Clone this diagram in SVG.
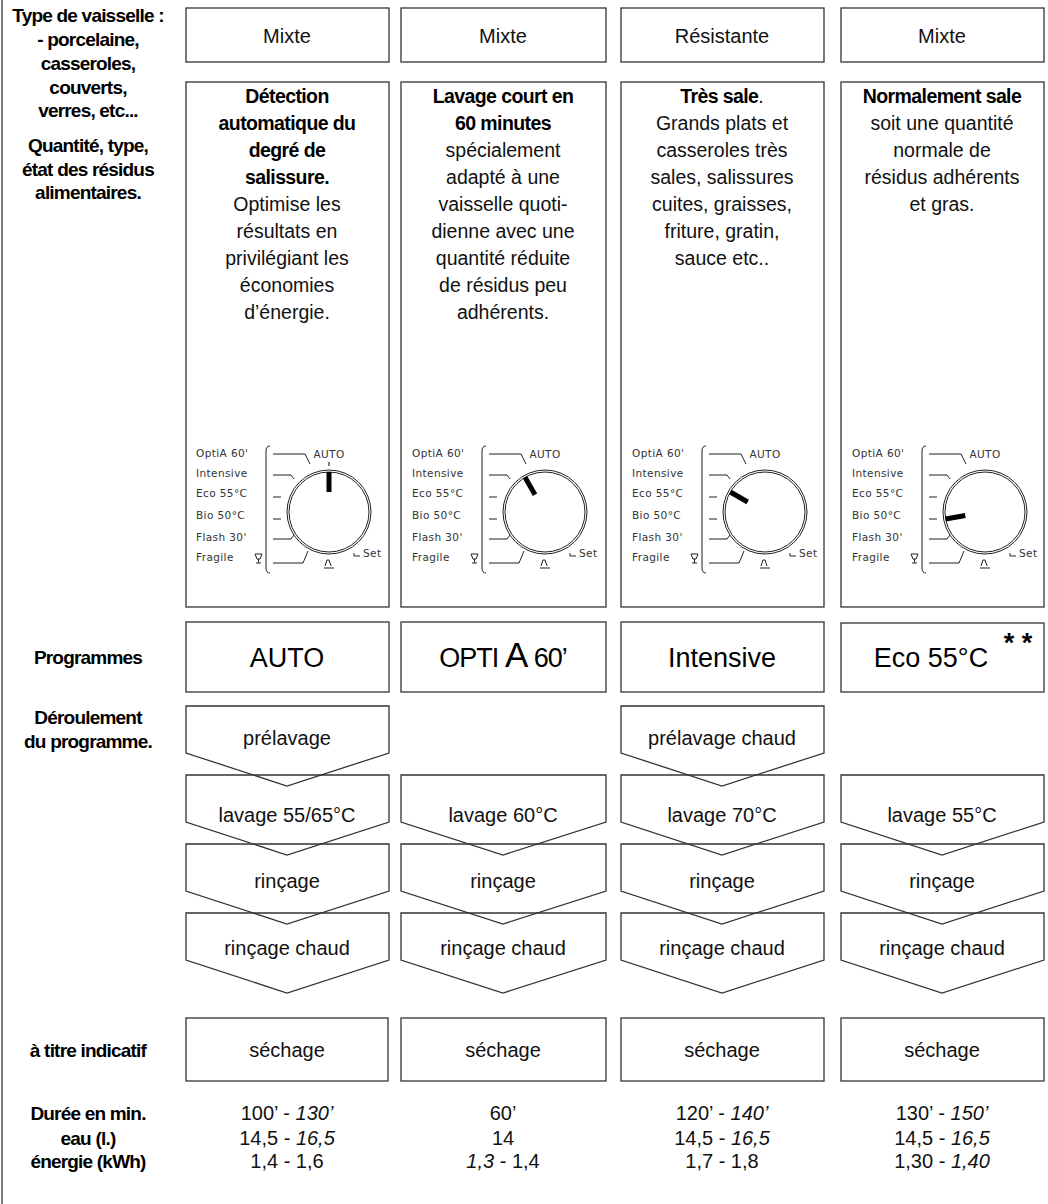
<svg xmlns="http://www.w3.org/2000/svg" width="1048" height="1204" viewBox="0 0 1048 1204">
<style>
.b{fill:#fff;stroke:#333;stroke-width:1.3}
.o{fill:none;stroke:#333;stroke-width:1.3}
.l{font-family:"Liberation Sans",Arial,sans-serif;font-weight:bold;font-size:19px;letter-spacing:-0.8px;text-anchor:middle;fill:#000}
.t{font-family:"Liberation Sans",Arial,sans-serif;font-size:20px;text-anchor:middle;fill:#111}
.d{font-family:"Liberation Sans",Arial,sans-serif;font-size:19.5px;text-anchor:middle;fill:#111}
.db{font-weight:bold;letter-spacing:-0.6px;fill:#000}
.p{font-family:"Liberation Sans",Arial,sans-serif;font-size:27px;text-anchor:middle;fill:#000}
.s{font-family:"Liberation Sans",Arial,sans-serif;font-size:20px;text-anchor:middle;fill:#111}
.v{font-family:"Liberation Sans",Arial,sans-serif;font-size:20px;text-anchor:middle;fill:#111}
.dl{font-family:"DejaVu Sans",sans-serif;font-size:10.5px;letter-spacing:0.4px;fill:#333}
.dk{stroke:#222;stroke-width:1;fill:none}
</style>
<defs>
<g id="dial">
<text class="dl" x="11" y="27">OptiA 60'</text>
<text class="dl" x="11" y="47" fill="#000">Intensive</text>
<text class="dl" x="11" y="67" fill="#000">Eco 55°C</text>
<text class="dl" x="11" y="89">Bio 50°C</text>
<text class="dl" x="11" y="111">Flash 30'</text>
<text class="dl" x="11" y="131">Fragile</text>
<path class="dk" d="M70 124 h7 l-2 5 h-3 z M73.5 129 v4 M71 133 h5"/>
<path class="dk" d="M85 16 q-4 0 -4 5 v117 q0 5 4 5" stroke-width="1.5"/>
<path class="dk" d="M88 24 h32 l5 10 M88 45 h18 l3 4 M88 67 h8 M88 89 h8 M88 109 h18 l3 -4 M88 133 h30 l5 -12"/>
<circle class="dk" cx="144" cy="82" r="42"/>
<circle class="dk" cx="144" cy="82" r="40" stroke-width="0.8"/>
<path class="dk" d="M169 123 v3 h6" />
<text class="dl" x="178" y="127" font-size="7">Set</text>
<path class="dk" d="M139 138 h10 M140 136 l2 -6 h2 l2 6" stroke-width="0.9"/>
</g>
</defs>
<line x1="2" y1="0" x2="2" y2="1204" stroke="#333" stroke-width="1.3"/>

<g id="labels">
<text class="l" x="88" y="22">Type de vaisselle :</text>
<text class="l" x="88" y="46">- porcelaine,</text>
<text class="l" x="88" y="70">casseroles,</text>
<text class="l" x="88" y="94">couverts,</text>
<text class="l" x="88" y="117">verres, etc...</text>
<text class="l" x="88" y="152">Quantité, type,</text>
<text class="l" x="88" y="176">état des résidus</text>
<text class="l" x="88" y="199">alimentaires.</text>
<text class="l" x="88" y="664">Programmes</text>
<text class="l" x="88" y="724">Déroulement</text>
<text class="l" x="88" y="748">du programme.</text>
<text class="l" x="88" y="1057">à titre indicatif</text>
<text class="l" x="88" y="1120">Durée en min.</text>
<text class="l" x="88" y="1145">eau (l.)</text>
<text class="l" x="88" y="1168">énergie (kWh)</text>
</g>

<g id="col1">
<rect class="b" x="186" y="8" width="203" height="54"/>
<text class="t" x="287" y="43">Mixte</text>
<rect class="b" x="186" y="82" width="203" height="525"/>
<text class="d db" x="287" y="103">Détection</text>
<text class="d db" x="287" y="130">automatique du</text>
<text class="d db" x="287" y="157">degré de</text>
<text class="d db" x="287" y="184">salissure.</text>
<text class="d" x="287" y="211">Optimise les</text>
<text class="d" x="287" y="238">résultats en</text>
<text class="d" x="287" y="265">privilégiant les</text>
<text class="d" x="287" y="292">économies</text>
<text class="d" x="287" y="319">d’énergie.</text>
<g transform="translate(185,430)"><use href="#dial"/>
<text class="dl" x="144" y="28" text-anchor="middle" fill="#000">AUTO</text>
<line x1="144" y1="32" x2="144" y2="36" stroke="#000"/>
<line x1="144" y1="42" x2="144" y2="62" stroke="#000" stroke-width="5"/></g>
<rect class="b" x="186" y="622" width="203" height="70"/>
<text class="p" x="287" y="667">AUTO</text>
</g>

<g id="col2">
<rect class="b" x="401" y="8" width="205" height="54"/>
<text class="t" x="503" y="43">Mixte</text>
<rect class="b" x="401" y="82" width="205" height="525"/>
<text class="d db" x="503" y="103">Lavage court en</text>
<text class="d db" x="503" y="130">60 minutes</text>
<text class="d" x="503" y="157">spécialement</text>
<text class="d" x="503" y="184">adapté à une</text>
<text class="d" x="503" y="211">vaisselle quoti-</text>
<text class="d" x="503" y="238">dienne avec une</text>
<text class="d" x="503" y="265">quantité réduite</text>
<text class="d" x="503" y="292">de résidus peu</text>
<text class="d" x="503" y="319">adhérents.</text>
<g transform="translate(401,430)"><use href="#dial"/>
<text class="dl" x="144" y="28" text-anchor="middle" fill="#ddd">AUTO</text>
<line x1="144" y1="42" x2="144" y2="62" stroke="#000" stroke-width="5" transform="rotate(-30 144 82)"/></g>
<rect class="b" x="401" y="622" width="205" height="70"/>
<text class="p" x="503" y="667" letter-spacing="-1"><tspan>OPTI</tspan><tspan font-size="35"> A</tspan><tspan>  60’</tspan></text>
</g>

<g id="col3">
<rect class="b" x="621" y="8" width="203" height="54"/>
<text class="t" x="722" y="43">Résistante</text>
<rect class="b" x="621" y="82" width="203" height="525"/>
<text class="d" x="722" y="103"><tspan class="db">Très sale</tspan>.</text>
<text class="d" x="722" y="130">Grands plats et</text>
<text class="d" x="722" y="157">casseroles très</text>
<text class="d" x="722" y="184">sales, salissures</text>
<text class="d" x="722" y="211">cuites, graisses,</text>
<text class="d" x="722" y="238">friture, gratin,</text>
<text class="d" x="722" y="265">sauce etc..</text>
<g transform="translate(621,430)"><use href="#dial"/>
<text class="dl" x="144" y="28" text-anchor="middle" fill="#ddd">AUTO</text>
<line x1="144" y1="42" x2="144" y2="62" stroke="#000" stroke-width="5" transform="rotate(-60 144 82)"/></g>
<rect class="b" x="621" y="622" width="203" height="70"/>
<text class="p" x="722" y="667">Intensive</text>
</g>

<g id="col4">
<rect class="b" x="841" y="8" width="203" height="54"/>
<text class="t" x="942" y="43">Mixte</text>
<rect class="b" x="841" y="82" width="203" height="525"/>
<text class="d db" x="942" y="103">Normalement sale</text>
<text class="d" x="942" y="130">soit une quantité</text>
<text class="d" x="942" y="157">normale de</text>
<text class="d" x="942" y="184">résidus adhérents</text>
<text class="d" x="942" y="211">et gras.</text>
<g transform="translate(841,430)"><use href="#dial"/>
<text class="dl" x="144" y="28" text-anchor="middle" fill="#ddd">AUTO</text>
<line x1="144" y1="42" x2="144" y2="62" stroke="#000" stroke-width="5" transform="rotate(-100 144 82)"/></g>
<rect class="b" x="841" y="623" width="203" height="69"/>
<text class="p" x="931" y="667">Eco 55°C</text>
<text class="p" x="1018" y="652" font-weight="bold" font-size="24">* *</text>
</g>

<g id="steps">
<path class="o" d="M186 706 H389 V753 L287 786 L186 753 Z"/>
<text class="s" x="287" y="745">prélavage</text>
<path class="o" d="M621 706 H824 V753 L722 786 L621 753 Z"/>
<text class="s" x="722" y="745">prélavage chaud</text>

<path class="o" d="M186 775 H389 V822 L287 855 L186 822 Z"/>
<text class="s" x="287" y="822">lavage 55/65°C</text>
<path class="o" d="M401 775 H606 V822 L503 855 L401 822 Z"/>
<text class="s" x="503" y="822">lavage 60°C</text>
<path class="o" d="M621 775 H824 V822 L722 855 L621 822 Z"/>
<text class="s" x="722" y="822">lavage 70°C</text>
<path class="o" d="M841 775 H1044 V822 L942 855 L841 822 Z"/>
<text class="s" x="942" y="822">lavage 55°C</text>

<path class="o" d="M186 844 H389 V891 L287 924 L186 891 Z"/>
<text class="s" x="287" y="888">rinçage</text>
<path class="o" d="M401 844 H606 V891 L503 924 L401 891 Z"/>
<text class="s" x="503" y="888">rinçage</text>
<path class="o" d="M621 844 H824 V891 L722 924 L621 891 Z"/>
<text class="s" x="722" y="888">rinçage</text>
<path class="o" d="M841 844 H1044 V891 L942 924 L841 891 Z"/>
<text class="s" x="942" y="888">rinçage</text>

<path class="o" d="M186 913 H389 V960 L287 993 L186 960 Z"/>
<text class="s" x="287" y="955">rinçage chaud</text>
<path class="o" d="M401 913 H606 V960 L503 993 L401 960 Z"/>
<text class="s" x="503" y="955">rinçage chaud</text>
<path class="o" d="M621 913 H824 V960 L722 993 L621 960 Z"/>
<text class="s" x="722" y="955">rinçage chaud</text>
<path class="o" d="M841 913 H1044 V960 L942 993 L841 960 Z"/>
<text class="s" x="942" y="955">rinçage chaud</text>

<rect class="b" x="186" y="1018" width="202" height="63"/>
<text class="s" x="287" y="1057">séchage</text>
<rect class="b" x="401" y="1018" width="205" height="63"/>
<text class="s" x="503" y="1057">séchage</text>
<rect class="b" x="621" y="1018" width="203" height="63"/>
<text class="s" x="722" y="1057">séchage</text>
<rect class="b" x="841" y="1018" width="203" height="63"/>
<text class="s" x="942" y="1057">séchage</text>
</g>

<g id="values">
<text class="v" x="287" y="1120">100’ - <tspan font-style="italic">130’</tspan></text>
<text class="v" x="287" y="1145">14,5 - <tspan font-style="italic">16,5</tspan></text>
<text class="v" x="287" y="1168">1,4 - 1,6</text>
<text class="v" x="503" y="1120">60’</text>
<text class="v" x="503" y="1145">14</text>
<text class="v" x="503" y="1168"><tspan font-style="italic">1,3</tspan> - 1,4</text>
<text class="v" x="722" y="1120">120’ - <tspan font-style="italic">140’</tspan></text>
<text class="v" x="722" y="1145">14,5 - <tspan font-style="italic">16,5</tspan></text>
<text class="v" x="722" y="1168">1,7 - 1,8</text>
<text class="v" x="942" y="1120">130’ - <tspan font-style="italic">150’</tspan></text>
<text class="v" x="942" y="1145">14,5 - <tspan font-style="italic">16,5</tspan></text>
<text class="v" x="942" y="1168">1,30 - <tspan font-style="italic">1,40</tspan></text>
</g>
</svg>
